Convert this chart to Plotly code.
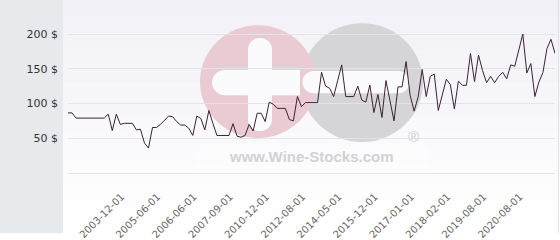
import plotly.graph_objects as go

# ---- data ----
prices = [
    86.5, 86.5, 79, 79, 79, 79, 79, 79, 79, 79,
    84.7, 61, 84.7, 70, 71.5, 71.5, 71.5, 62, 63, 43,
    36, 65.5, 65.5, 70, 76, 82, 81, 74, 69, 69,
    64.5, 54, 82, 78.5, 62, 90, 71.5, 54, 54, 54,
    54, 71, 53, 51.5, 54, 70, 60.5, 86, 86, 74,
    102, 99, 93, 93, 93, 77, 75, 110, 95.5, 101.3,
    101.3, 101.3, 101.3, 145, 125, 122, 110, 133, 155.6, 110,
    110, 110, 125, 105, 102, 126.7, 87, 113, 80, 133,
    104, 75, 124, 124, 160.5, 112, 89, 109.5, 149, 110,
    139, 142.5, 90, 113.5, 135, 127, 92, 132.3, 126.2, 126.2,
    172, 131.5, 169.6, 147.5, 130, 139, 130, 139, 145, 135.5,
    155.6, 153.7, 177.8, 200, 144, 157.5, 110, 131, 144.5, 179,
    192.5, 172,
]
point_index = list(range(len(prices)))
tick_index = [14, 23, 32, 41, 50, 59, 68, 77, 86, 95, 104, 113]
tick_labels = ["2003-12-01", "2005-06-01", "2006-06-01", "2007-09-01",
               "2010-12-01", "2012-08-01", "2014-05-01", "2015-12-01",
               "2017-01-01", "2018-02-01", "2019-08-01", "2020-08-01"]
y_ticks = [50, 100, 150, 200]
y_tick_labels = ["%d $" % v for v in y_ticks]

# ---- layout geometry ----
W, H = 560, 240
ML, MR, MT, MB = 68, 5, 0, 62
PW, PH = W - ML - MR, H - MT - MB


def px(x):
    return (x - ML) / PW


def py(y):
    return (H - MB - y) / PH


shapes = []
# vertical background gradient
n = 14
c0, c1 = (241, 241, 247), (255, 255, 255)
for k in range(n):
    t = k / (n - 1)
    col = tuple(round(c0[j] + (c1[j] - c0[j]) * t) for j in range(3))
    shapes.append(dict(type="rect", xref="paper", yref="paper", layer="below",
                       x0=px(0), x1=px(W), y0=py(H * (k + 1) / n), y1=py(H * k / n),
                       fillcolor="rgb(%d,%d,%d)" % col, line=dict(width=0)))
# left grey panel
shapes.append(dict(type="rect", xref="paper", yref="paper", layer="below",
                   x0=px(0), x1=px(63), y0=py(H), y1=py(0),
                   fillcolor="#e6eaed", line=dict(width=0)))
# right edge line
shapes.append(dict(type="line", xref="paper", yref="paper", layer="below",
                   x0=px(558.5), x1=px(558.5), y0=py(H), y1=py(0),
                   line=dict(color="#e2e2e8", width=1)))


def circle(cx, cy, r, color):
    return dict(type="circle", xref="paper", yref="paper", layer="below",
                x0=px(cx - r), x1=px(cx + r), y0=py(cy + r), y1=py(cy - r),
                fillcolor=color, line=dict(width=0))


def rect(x0, y0, x1, y1, color):
    return dict(type="rect", xref="paper", yref="paper", layer="below",
                x0=px(x0), x1=px(x1), y0=py(y1), y1=py(y0),
                fillcolor=color, line=dict(width=0))


# watermark logo
pink = "#eacbd3"
grey = "#d5d5d8"
white = "#fbfbfd"
shapes.append(circle(362, 85, 61, grey))
shapes.append(circle(258, 84, 58, pink))
# plus sign
shapes.append(rect(248, 51, 272, 123, white))
shapes.append(circle(260, 51, 12, white))
shapes.append(circle(260, 123, 12, white))
shapes.append(rect(225, 72, 300, 98, white))
shapes.append(circle(225, 85, 13, white))
# minus sign
shapes.append(rect(314, 73, 398, 96, white))
shapes.append(circle(314, 84.5, 11.5, white))
shapes.append(circle(398, 84.5, 11.5, white))
# pale panel behind the text
shapes.append(rect(197, 150, 427, 174, "rgba(255,255,255,0.3)"))

annotations = [
    dict(xref="paper", yref="paper", x=px(311), y=py(161), text="www.Wine-Stocks.com",
         showarrow=False, xanchor="center", yanchor="middle",
         font=dict(family="Liberation Sans, Arial", size=15, color="#d2d2d5", weight="bold")),
    dict(xref="paper", yref="paper", x=px(413), y=py(140), text="®",
         showarrow=False, xanchor="center", yanchor="middle",
         font=dict(family="Liberation Sans, Arial", size=15, color="#cfcfd2")),
]

fig = go.Figure()
fig.add_trace(go.Scatter(x=point_index, y=prices, mode="lines",
                         line=dict(color="#3b2232", width=1), hoverinfo="skip"))

fig.update_layout(
    width=W, height=H,
    margin=dict(l=ML, r=MR, t=MT, b=MB, pad=0),
    paper_bgcolor="white", plot_bgcolor="rgba(0,0,0,0)",
    showlegend=False, shapes=shapes, annotations=annotations,
    font=dict(family="DejaVu Sans"),
)
fig.update_xaxes(range=[0, len(prices) - 1], tickmode="array", tickvals=tick_index,
                 ticktext=tick_labels, tickangle=-45, showgrid=False, zeroline=False,
                 showline=True, linecolor="#e3e3e8", linewidth=1, ticks="",
                 ticklabelstandoff=13, ticklabelshift=-3,
                 tickfont=dict(family="DejaVu Sans", size=10, color="#666666"))
fig.update_yaxes(range=[0, 249], tickmode="array", tickvals=y_ticks, ticktext=y_tick_labels,
                 showgrid=True, gridcolor="#e3e3e8", gridwidth=1, zeroline=False,
                 ticks="", ticklabelstandoff=9,
                 tickfont=dict(family="DejaVu Sans", size=11, color="#333333"))

fig.write_html("out.html")
